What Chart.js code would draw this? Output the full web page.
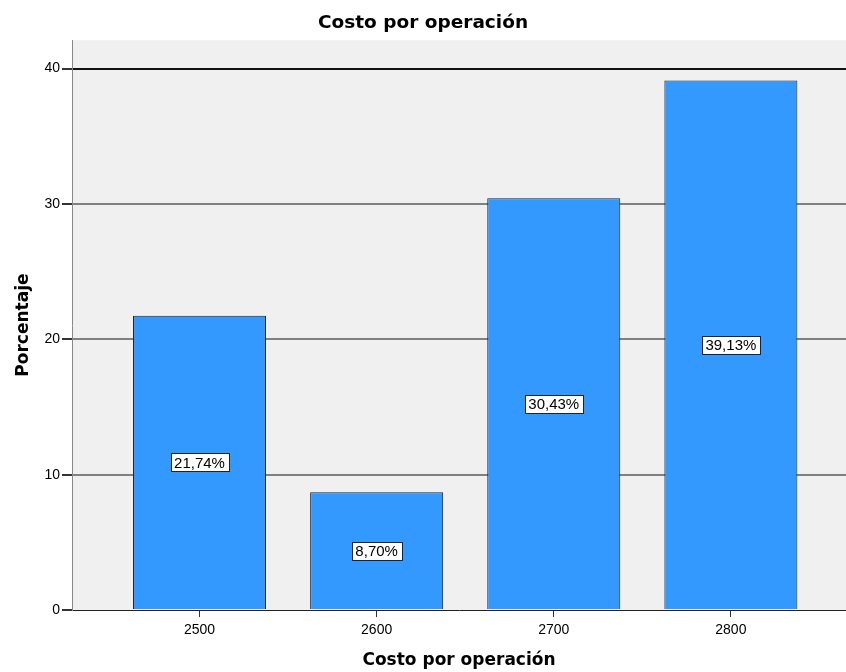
<!DOCTYPE html>
<html>
<head>
<meta charset="utf-8">
<script src="https://cdn.jsdelivr.net/npm/chart.js"></script>
<style>
  html, body { margin: 0; padding: 0; background: #fff; }
  #wrap { width: 846px; height: 672px; }
</style>
</head>
<body>
<div id="wrap"><canvas id="costChart"></canvas></div>
<script>
const categories = [2500, 2600, 2700, 2800];
const percentages = [21.74, 8.70, 30.43, 39.13];
const yTicks = [0, 10, 20, 30, 40];

const FONT = "'Liberation Sans', Arial, sans-serif";
const TITLE_FONT = "'DejaVu Sans', Arial, sans-serif";

// gray plot background
const plotBackground = {
  id: 'plotBackground',
  beforeDraw(chart) {
    const a = chart.chartArea;
    const ctx = chart.ctx;
    ctx.save();
    ctx.fillStyle = '#f0f0f0';
    ctx.fillRect(a.left, a.top, a.right - a.left, a.bottom - a.top);
    ctx.restore();
  }
};

// percentage label in a white box at the middle of each bar
const barLabels = {
  id: 'barLabels',
  afterDatasetsDraw(chart) {
    const ctx = chart.ctx;
    const meta = chart.getDatasetMeta(0);
    ctx.save();
    ctx.font = '15px ' + FONT;
    ctx.textAlign = 'center';
    ctx.textBaseline = 'middle';
    meta.data.forEach(function(bar, i) {
      const text = percentages[i].toFixed(2).replace('.', ',') + '%';
      const w = Math.round(ctx.measureText(text).width + 7);
      const h = 18;
      const cy = (bar.y + bar.base) / 2;
      const x0 = Math.round(bar.x - w / 2) + 0.5;
      const y0 = Math.round(cy - h / 2) + 0.5;
      ctx.fillStyle = '#fff';
      ctx.fillRect(x0, y0, w, h);
      ctx.strokeStyle = '#222';
      ctx.lineWidth = 1;
      ctx.strokeRect(x0, y0, w, h);
      ctx.fillStyle = '#000';
      ctx.fillText(text, bar.x, cy + 1);
    });
    ctx.restore();
  }
};

const ctx = document.getElementById('costChart').getContext('2d');
const costChart = new Chart(ctx, {
  type: 'bar',
  data: {
    datasets: [{
      label: 'Porcentaje',
      data: categories.map(function(c, i) { return { x: c, y: percentages[i] }; }),
      backgroundColor: '#3399ff',
      borderColor: '#222',
      borderWidth: 1,
      barPercentage: 0.751,
      categoryPercentage: 1
    }]
  },
  options: {
    responsive: true,
    maintainAspectRatio: false,
    animation: false,
    layout: { padding: 0 },
    plugins: {
      legend: { display: false },
      tooltip: { enabled: false },
      title: {
        display: true,
        text: 'Costo por operación',
        color: '#000',
        font: { family: TITLE_FONT, size: 18.5, weight: 'bold' },
        padding: { top: 12, bottom: 6 }
      }
    },
    scales: {
      x: {
        type: 'linear',
        offset: false,
        min: 2428,
        max: 2865,
        afterBuildTicks: function(scale) {
          scale.ticks = categories.map(function(v) { return { value: v }; });
        },
        afterFit: function(scale) { scale.height = 62; },
        ticks: {
          color: '#000',
          font: { family: FONT, size: 14 },
          padding: 5,
          maxRotation: 0,
          callback: function(v) { return String(v); }
        },
        grid: {
          offset: false,
          drawOnChartArea: false,
          tickLength: 7,
          tickColor: '#333',
          lineWidth: 1
        },
        border: { color: '#222', width: 1 },
        title: {
          display: true,
          text: 'Costo por operación',
          color: '#000',
          font: { family: TITLE_FONT, size: 17, weight: 'bold' },
          padding: { top: 0, bottom: 1 }
        }
      },
      y: {
        min: 0,
        max: 42.1,
        afterBuildTicks: function(scale) {
          scale.ticks = yTicks.map(function(v) { return { value: v }; });
        },
        afterFit: function(scale) { scale.width = 72; },
        ticks: {
          color: '#000',
          font: { family: FONT, size: 14 },
          padding: 2
        },
        grid: {
          tickLength: 10,
          tickColor: '#333',
          lineWidth: 2,
          color: function(c) {
            if (!c.tick) return 'transparent';
            if (c.tick.value === 40) return '#111';
            if (c.tick.value === 0) return 'transparent';
            return '#808080';
          }
        },
        border: { color: '#888', width: 1 },
        title: {
          display: true,
          text: 'Porcentaje',
          color: '#000',
          font: { family: TITLE_FONT, size: 17, weight: 'bold' },
          padding: { top: 13, bottom: 0 }
        }
      }
    }
  },
  plugins: [plotBackground, barLabels]
});
</script>
</body>
</html>
